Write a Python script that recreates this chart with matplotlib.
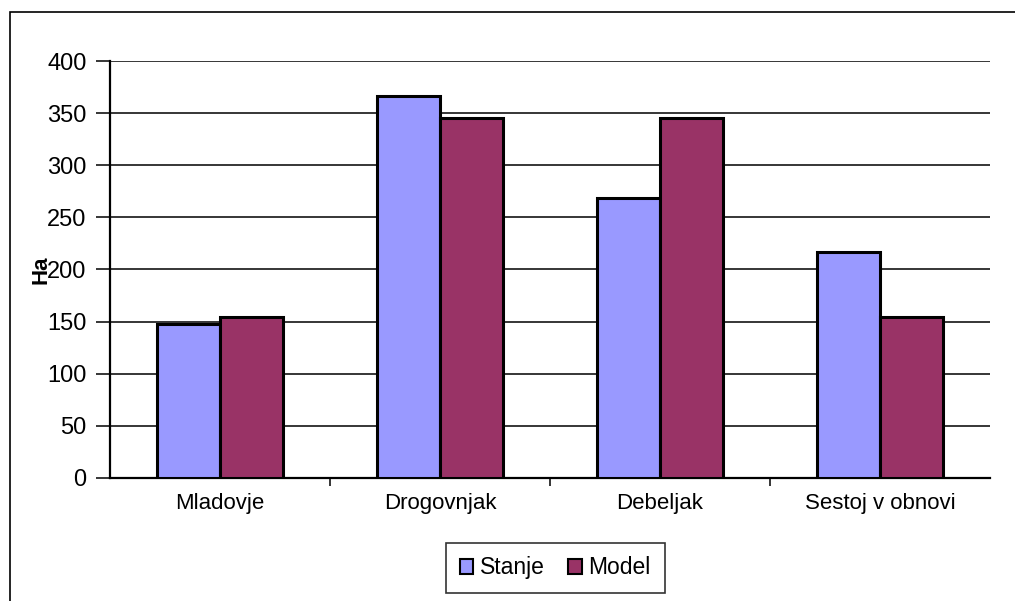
import numpy as np
import matplotlib.pyplot as plt
from matplotlib.patches import Rectangle

plt.rcParams['font.family'] = ['Liberation Sans', 'DejaVu Sans']

categories = ['Mladovje', 'Drogovnjak', 'Debeljak', 'Sestoj v obnovi']
stanje = [148, 366, 269, 217]
model = [154, 345, 345, 154]

fig = plt.figure(figsize=(10.15, 6.01), dpi=100)
ax = fig.add_axes([0.1084, 0.2047, 0.867, 0.6938])

# outer frame of the chart
fig.patches.append(Rectangle((10 / 1015, -0.05), 1.1, 1 - 12 / 601 + 0.05,
                             transform=fig.transFigure, fill=False,
                             edgecolor='black', linewidth=1.2))

x = np.arange(len(categories))
w = 0.285
ax.bar(x - w / 2, stanje, w, color='#9999ff', edgecolor='black', linewidth=2.2,
       label='Stanje', zorder=3)
ax.bar(x + w / 2, model, w, color='#993366', edgecolor='black', linewidth=2.2,
       label='Model', zorder=3)

ax.set_xlim(-0.5, len(categories) - 0.5)
ax.set_ylim(0, 400)
ax.set_yticks(np.arange(0, 401, 50))
ax.yaxis.grid(True, color='black', linewidth=1.1, zorder=0)
ax.set_axisbelow(True)

ax.set_xticks(x)
ax.set_xticklabels(categories, fontsize=16)
ax.set_xticks(np.arange(0.5, len(categories) - 0.5, 1), minor=True)
ax.tick_params(axis='x', which='major', length=0, pad=11)
ax.tick_params(axis='x', which='minor', length=6, width=1.1, direction='out')
ax.tick_params(axis='y', length=10, width=1.1, labelsize=17, pad=7)

for side in ['top', 'right']:
    ax.spines[side].set_visible(False)
ax.spines['left'].set_linewidth(1.6)
ax.spines['bottom'].set_linewidth(1.6)

ax.set_ylabel('Ha', fontsize=16, fontweight='bold')
ax.yaxis.set_label_coords(-0.066, 0.5)

leg = fig.legend(loc='center', bbox_to_anchor=(0.547, 0.055), ncol=2,
                 fontsize=16.5, frameon=True, fancybox=False,
                 handlelength=0.6, handleheight=0.6, handletextpad=0.3,
                 columnspacing=1.0, borderpad=0.6, borderaxespad=0)
leg.get_frame().set_edgecolor('black')
leg.get_frame().set_linewidth(1.2)
for h in leg.legend_handles:
    h.set_linewidth(1.5)

fig.savefig('out.png', dpi=100)
